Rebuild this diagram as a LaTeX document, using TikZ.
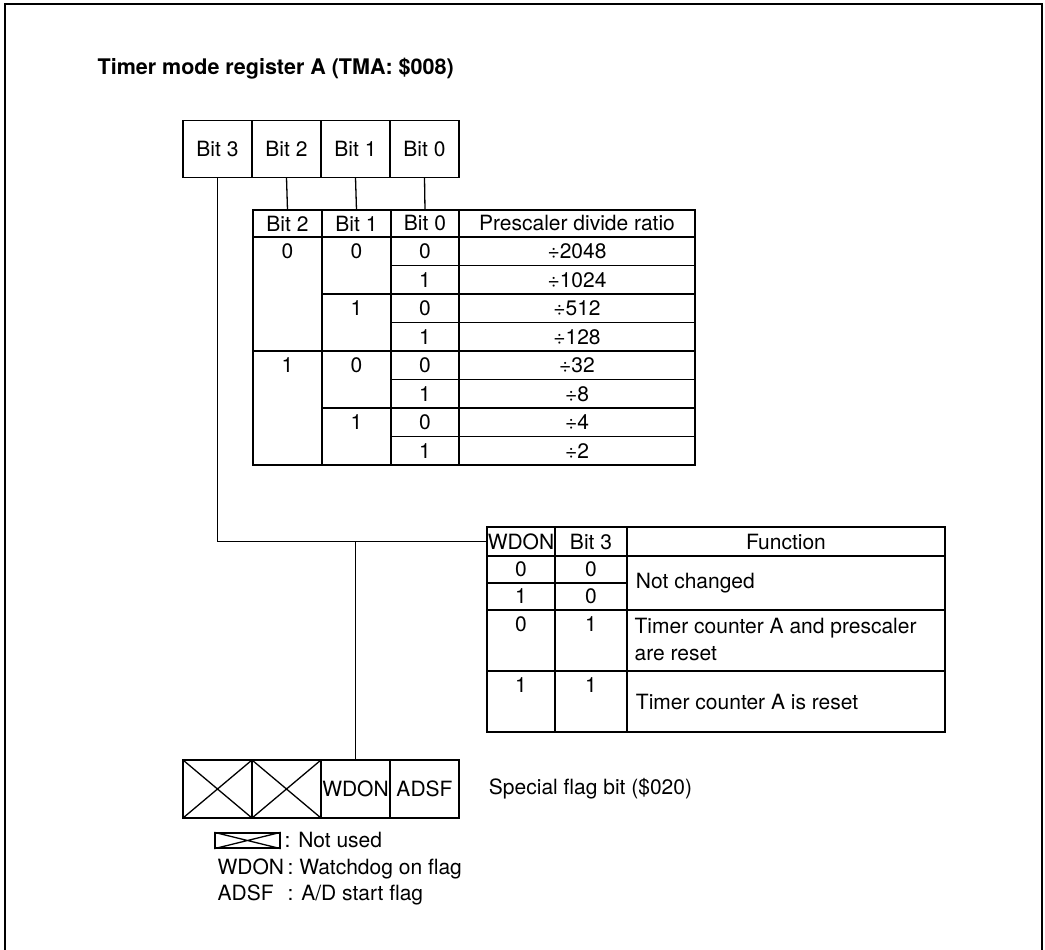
\documentclass[tikz,border=0pt]{standalone}
\usepackage{fontspec}
\setmainfont{TeX Gyre Heros}
\usetikzlibrary{positioning}

\begin{document}
\begin{tikzpicture}[x=1pt,y=-1pt,line width=1.3pt,
  every node/.style={font=\fontsize{21}{27}\selectfont},
  regcell/.style={draw,minimum width=69pt,minimum height=57pt,inner sep=0pt,outer sep=0pt},
  hdrcell/.style={draw,minimum height=27pt,inner sep=0pt,outer sep=0pt}]
  \useasboundingbox (0,0) rectangle (1045,950);
  \draw[line width=1.8pt] (5,950) |- (1042,4) -- (1042,950);

  \node[anchor=base west,inner sep=0pt,font=\fontsize{21.5}{26}\selectfont\bfseries] (title) at (97,75)
    {Timer mode register A (TMA: \$008)};

  \node[regcell] (tma3) at (217.5,149) {Bit 3};
  \node[regcell,right=0pt of tma3] (tma2) {Bit 2};
  \node[regcell,right=0pt of tma2] (tma1) {Bit 1};
  \node[regcell,right=0pt of tma1] (tma0) {Bit 0};

  \node[hdrcell,minimum width=69pt] (pb2) at (287.5,223.5) {Bit 2};
  \node[hdrcell,minimum width=69pt,right=0pt of pb2] (pb1) {Bit 1};
  \node[hdrcell,minimum width=68pt,right=0pt of pb1] (pb0) {Bit 0};
  \node[hdrcell,minimum width=236pt,right=0pt of pb0] (pratio) {Prescaler divide ratio};
  \draw (tma2.south) -- (pb2.north);
  \draw (tma1.south) -- (pb1.north);
  \draw (tma0.south) -- (pb0.north);

  \draw (pb2.south west) rectangle (pratio.east |- 0,465);
  \foreach \x in {322,391,459} \draw (\x,237) -- (\x,465);
  \foreach \y in {265.5,294,322.5,351,379.5,408,436.5} \draw (391,\y) -- (695,\y);
  \foreach \y in {294,351,408} \draw (322,\y) -- (391,\y);
  \draw (253,351) -- (322,351);
  \foreach \r/\b/\q in {1/0/2048,2/1/1024,3/0/512,4/1/128,5/0/32,6/1/8,7/0/4,8/1/2} {
    \node (pv\r) at (425,{237+28.5*(\r-0.5)}) {\b};
    \node (pq\r) at (577,{237+28.5*(\r-0.5)}) {÷\q};
  }
  \foreach \r/\b in {1/0,3/1,5/0,7/1}
    \node (pm\r) at (356.5,{237+28.5*(\r-0.5)}) {\b};
  \node (ph1) at (287.5,251.25) {0};
  \node (ph5) at (287.5,365.25) {1};

  \node[hdrcell,minimum width=68pt,minimum height=29pt] (wdonh) at (521,541.5) {WDON};
  \node[hdrcell,minimum width=72pt,minimum height=29pt,right=0pt of wdonh] (bit3h) {Bit 3};
  \node[hdrcell,minimum width=318pt,minimum height=29pt,right=0pt of bit3h] (funch) {Function};
  \draw (wdonh.south west) rectangle (funch.east |- 0,732);
  \draw (555,556) -- (555,732);
  \draw (627,556) -- (627,732);
  \draw (487,583) -- (627,583);
  \draw (487,610) -- (945,610);
  \draw (487,671) -- (945,671);
  \node (w1) at (521,569.5) {0}; \node (c1) at (591,569.5) {0};
  \node (w2) at (521,596.5) {1}; \node (c2) at (591,596.5) {0};
  \node (w3) at (521,624) {0};   \node (c3) at (591,624) {1};
  \node (w4) at (521,685) {1};   \node (c4) at (591,685) {1};
  \node[anchor=west] (f1) at (632,583) {Not changed};
  \node[anchor=west,align=left,inner sep=0pt] (f2) at (634,639)
    {Timer counter A and prescaler\\are reset};
  \node[anchor=west] (f3) at (632,702) {Timer counter A is reset};

  \node[regcell,minimum height=58pt] (fx1) at (217.5,789) {};
  \node[regcell,minimum height=58pt,right=0pt of fx1] (fx2) {};
  \node[regcell,minimum height=58pt,right=0pt of fx2] (fwdon) {WDON};
  \node[regcell,minimum height=58pt,right=0pt of fwdon] (fadsf) {ADSF};
  \draw (fx1.north west) -- (fx1.south east) (fx1.south west) -- (fx1.north east);
  \draw (fx2.north west) -- (fx2.south east) (fx2.south west) -- (fx2.north east);
  \node[anchor=west] (sfb) at (485,789) {Special flag bit (\$020)};

  \draw (tma3.south) |- (wdonh.west);
  \coordinate (tee) at (fwdon.north |- wdonh.west);
  \draw (fwdon.north) -- (tee);

  \node[draw,minimum width=65pt,minimum height=15pt,inner sep=0pt] (lgbox) at (247.5,840.5) {};
  \draw (lgbox.north west) -- (lgbox.south east) (lgbox.south west) -- (lgbox.north east);
  \node[anchor=base west,inner sep=0pt] (lgnot) at (284,847) {: Not used};
  \node[anchor=base west,inner sep=0pt] (lgwdon) at (217,874) {WDON\,: Watchdog on flag};
  \node[anchor=base west,inner sep=0pt] (lgadsf) at (217,900)
    {\rlap{ADSF}\phantom{WDON}\,: A/D start flag};
\end{tikzpicture}
\end{document}
